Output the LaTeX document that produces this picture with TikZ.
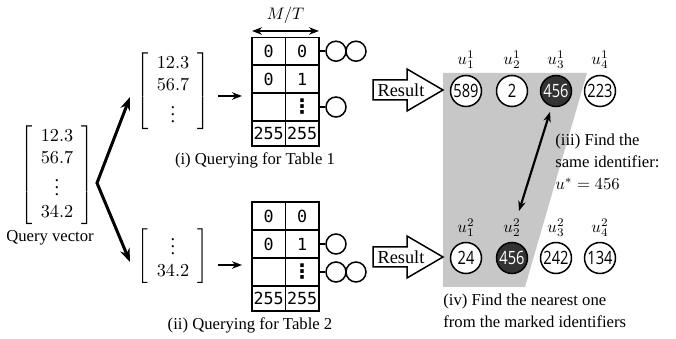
\documentclass[tikz,border=0pt]{standalone}
\usepackage{amsmath}
\usepackage[no-math]{fontspec}
\setmainfont{Liberation Serif}
\newfontfamily\tabfont{DejaVu Sans Mono}
\newfontfamily\symfont{DejaVu Sans}
\newfontfamily\circfont[FakeStretch=0.8]{Open Sans}
\usetikzlibrary{arrows.meta}
\begin{document}
\begin{tikzpicture}[x=0.6pt,y=-0.6pt,
  txt/.style={font=\fontsize{10}{13.2}\selectfont, inner sep=0pt},
  vec/.style={font=\fontsize{11}{13.2}\selectfont, inner sep=0pt},
  cell/.style={font=\tabfont\fontsize{10}{12}\selectfont, inner sep=0pt},
  dots/.style={font=\symfont\bfseries\fontsize{12}{12}\selectfont, inner sep=0pt},
  idc/.style={circle, draw, fill=white, line width=0.9pt, minimum size=18.6pt, inner sep=0pt, font=\circfont\fontsize{11}{11}\selectfont},
  hit/.style={idc, fill=black!80, text=white},
  mini/.style={circle, draw, line width=0.9pt, minimum size=12pt, inner sep=0pt},
  tabline/.style={line width=0.8pt},
  stub/.style={line width=1.3pt},
  bigarrow/.style={line width=1.8pt, {Stealth[length=8pt,width=6pt]}-{Stealth[length=8pt,width=6pt]}, line join=miter},
  smallarrow/.style={line width=1.3pt, -{Stealth[length=6pt,width=4.5pt]}},
  resarrow/.style={draw, line width=0.9pt, fill=white, line join=miter},
]
\useasboundingbox (0,0) rectangle (676,339);

% ---------- query vector ----------
\node[vec] (qv) at (57,175) {$\left[\begin{array}{c}12.3\\56.7\\ \vdots\\ 34.2\end{array}\right]$};
\node[txt] (qvlab) at (50,238) {Query vector};

% sub vectors
\node[vec] (v1) at (173,91) {$\left[\begin{array}{c}12.3\\56.7\\ \vdots\end{array}\right]$};
\node[vec] (v2) at (173,256) {$\left[\begin{array}{c}\vdots\\ 34.2\end{array}\right]$};

\coordinate (fork) at (97,183);
\coordinate (v1in) at (130,97);
\coordinate (v2in) at (130,262);
\draw[bigarrow] (v1in) -- (fork) -- (v2in);

\coordinate (a1s) at (218,96);  \coordinate (a1e) at (242,96);
\coordinate (a2s) at (218,265); \coordinate (a2e) at (242,265);
\draw[smallarrow] (a1s) -- (a1e);
\draw[smallarrow] (a2s) -- (a2e);

% ---------- table 1 ----------
\draw[tabline] (252,37.5) rectangle (319,146);
\draw[tabline] (285.5,37.5) -- (285.5,146);
\foreach \yy in {65,93,121} \draw[tabline] (252,\yy) -- (319,\yy);
\node[cell] (t1a) at (268.7,51.2) {0};
\node[cell] (t1b) at (302.2,51.2) {0};
\node[cell] (t1c) at (268.7,79) {0};
\node[cell] (t1d) at (302.2,79) {1};
\node[dots] (t1e) at (302.2,107) {⋮};
\node[cell] (t1f) at (268.7,133.5) {255};
\node[cell] (t1g) at (302.2,133.5) {255};
\coordinate (mtl) at (252,31);
\coordinate (mtr) at (319,31);
\draw[line width=1.3pt, {Stealth[length=6pt,width=4.5pt]}-{Stealth[length=6pt,width=4.5pt]}] (mtl) -- (mtr);
\node[txt] (mt) at (285.5,15) {$M/T$};
\node[mini] (m1a) at (336,51.2) {};
\node[mini] (m1b) at (356,51.2) {};
\node[mini] (m1c) at (336,107) {};
\draw[stub] (319,51.2) -- (m1a);
\draw[stub] (319,107) -- (m1c);
\node[txt] (cap1) at (255,160) {(i) Querying for Table 1};

% ---------- table 2 ----------
\draw[tabline] (252,202) rectangle (319,311);
\draw[tabline] (285.5,202) -- (285.5,311);
\foreach \yy in {230,258,286} \draw[tabline] (252,\yy) -- (319,\yy);
\node[cell] (t2a) at (268.7,216) {0};
\node[cell] (t2b) at (302.2,216) {0};
\node[cell] (t2c) at (268.7,244) {0};
\node[cell] (t2d) at (302.2,244) {1};
\node[dots] (t2e) at (302.2,272) {⋮};
\node[cell] (t2f) at (268.7,298.5) {255};
\node[cell] (t2g) at (302.2,298.5) {255};
\node[mini] (m2a) at (336,244) {};
\node[mini] (m2b) at (336,272) {};
\node[mini] (m2c) at (356,272) {};
\draw[stub] (319,244) -- (m2a);
\draw[stub] (319,272) -- (m2b);
\node[txt] (cap2) at (250,325) {(ii) Querying for Table 2};

% ---------- right part ----------
\fill[black!22] (443,73) -- (587,73) -- (525,287) -- (443,287) -- cycle;

\draw[resarrow] (373,80) -- (407,80) -- (407,69) -- (443,90) -- (407,111) -- (407,100) -- (373,100) -- cycle;
\node[txt, font=\fontsize{11}{11}\selectfont] (r1) at (401,90) {Result};
\draw[resarrow] (373,247) -- (407,247) -- (407,236) -- (443,257) -- (407,278) -- (407,267) -- (373,267) -- cycle;
\node[txt, font=\fontsize{11}{11}\selectfont] (r2) at (401,257) {Result};

\node[idc] (c11) at (466,91) {589};
\node[idc] (c12) at (512,91) {2};
\node[hit] (c13) at (556,91) {456};
\node[idc] (c14) at (600,91) {223};
\node[txt] (l11) at (466,60) {$u_1^1$};
\node[txt] (l12) at (512,60) {$u_2^1$};
\node[txt] (l13) at (556,60) {$u_3^1$};
\node[txt] (l14) at (600,60) {$u_4^1$};

\node[idc] (c21) at (466,258) {24};
\node[hit] (c22) at (512,258) {456};
\node[idc] (c23) at (556,258) {242};
\node[idc] (c24) at (600,258) {134};
\node[txt] (l21) at (466,228) {$u_1^2$};
\node[txt] (l22) at (512,228) {$u_2^2$};
\node[txt] (l23) at (556,228) {$u_3^2$};
\node[txt] (l24) at (600,228) {$u_4^2$};

\coordinate (p1) at (550,112);
\coordinate (p2) at (519,211);
\draw[line width=1.3pt, {Stealth[length=6pt,width=4.5pt]}-{Stealth[length=6pt,width=4.5pt]}] (p1) -- (p2);

\node[txt, anchor=west, align=left] (t3) at (555,162) {(iii) Find the\\same identifier:\\$u^*=456$};
\node[txt, anchor=west, align=left] (t4) at (443,311) {(iv) Find the nearest one\\from the marked identifiers};
\end{tikzpicture}
\end{document}
